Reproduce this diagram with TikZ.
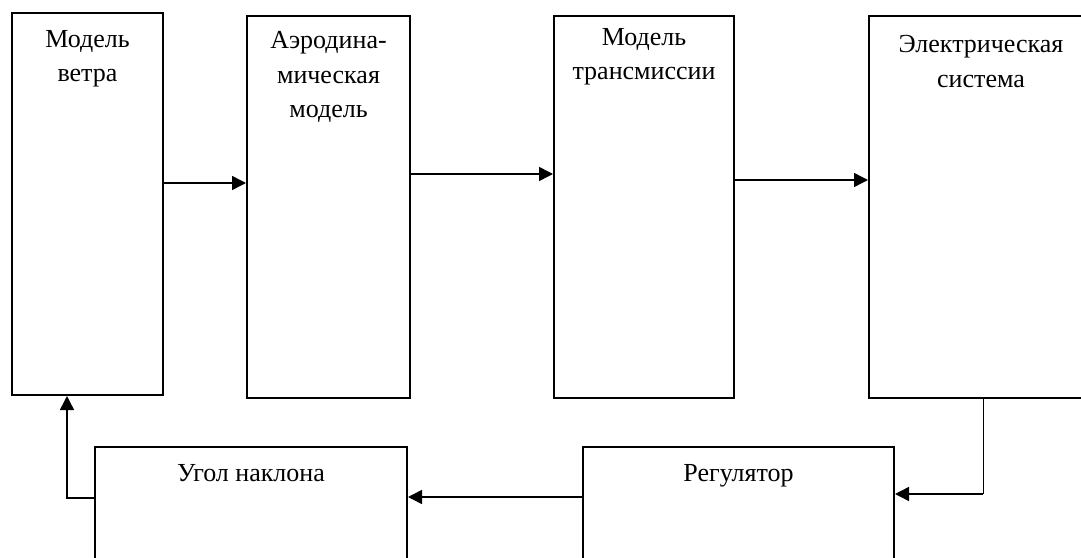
\documentclass[tikz,border=0pt]{standalone}
\usepackage{fontspec}
\setmainfont{Liberation Serif}
\usetikzlibrary{arrows.meta}
\tikzset{
  block/.style={draw,line width=1pt,anchor=north west,inner sep=0pt},
  caption/.style={anchor=north,align=center,inner sep=0pt,font=\fontsize{13}{17.25}\selectfont},
  flow/.style={line width=0.75pt,-{Triangle[length=7pt,width=7pt]}}
}

\begin{document}
\begin{tikzpicture}[x=0.5pt,y=-0.5pt]
  \useasboundingbox (0,0) rectangle (1081,557);
  \clip (0,0) rectangle (1081,557);
  % upper row
  \node[block,minimum width=75.5pt,minimum height=191pt] (wind) at (11,12) {};
  \node[block,minimum width=81.5pt,minimum height=191pt] (aero) at (246,15) {};
  \node[block,minimum width=90pt,minimum height=191pt] (trans) at (553,15) {};
  \node[block,minimum width=112pt,minimum height=191pt] (elec) at (868,15) {};
  % lower row
  \node[block,minimum width=156pt,minimum height=62pt] (tilt) at (94,446) {};
  \node[block,minimum width=155.5pt,minimum height=62pt] (reg) at (582,446) {};

  \node[caption] (windtxt) at ([yshift=-9pt]wind.north) {Модель\\ветра};
  \node[caption] (aerotxt) at ([yshift=-8pt]aero.north) {Аэродина-\\мическая\\модель};
  \node[caption] (transtxt) at ([yshift=-6.5pt]trans.north) {Модель\\трансмиссии};
  \node[caption] (electxt) at ([yshift=-10pt]elec.north) {Электрическая\\система};
  \node[caption] (tilttxt) at ([yshift=-9pt]tilt.north) {Угол наклона};
  \node[caption] (regtxt) at ([yshift=-9pt]reg.north) {Регулятор};

  \draw[flow] ([yshift=10.5pt]wind.east) -- ([yshift=10.5pt]wind.east -| aero.west);
  \draw[flow] ([yshift=16.5pt]aero.east) -- ([yshift=16.5pt]aero.east -| trans.west);
  \draw[flow] ([yshift=13.5pt]trans.east) -- ([yshift=13.5pt]trans.east -| elec.west);

  % feedback loop
  \coordinate (bend) at ([xshift=57.5pt,yshift=-24pt]reg.north east -| elec.south west);
  \draw[line width=0.5pt] (elec.south west -| bend) -- (bend);
  \draw[flow] (bend) -- (bend -| reg.east);
  \draw[flow] ([yshift=-25.5pt]reg.north west) -- ([yshift=-25.5pt]reg.north west -| tilt.east);
  \draw[flow] ([yshift=-26pt]tilt.north west) -| ([xshift=28pt]wind.south west);
\end{tikzpicture}
\end{document}
